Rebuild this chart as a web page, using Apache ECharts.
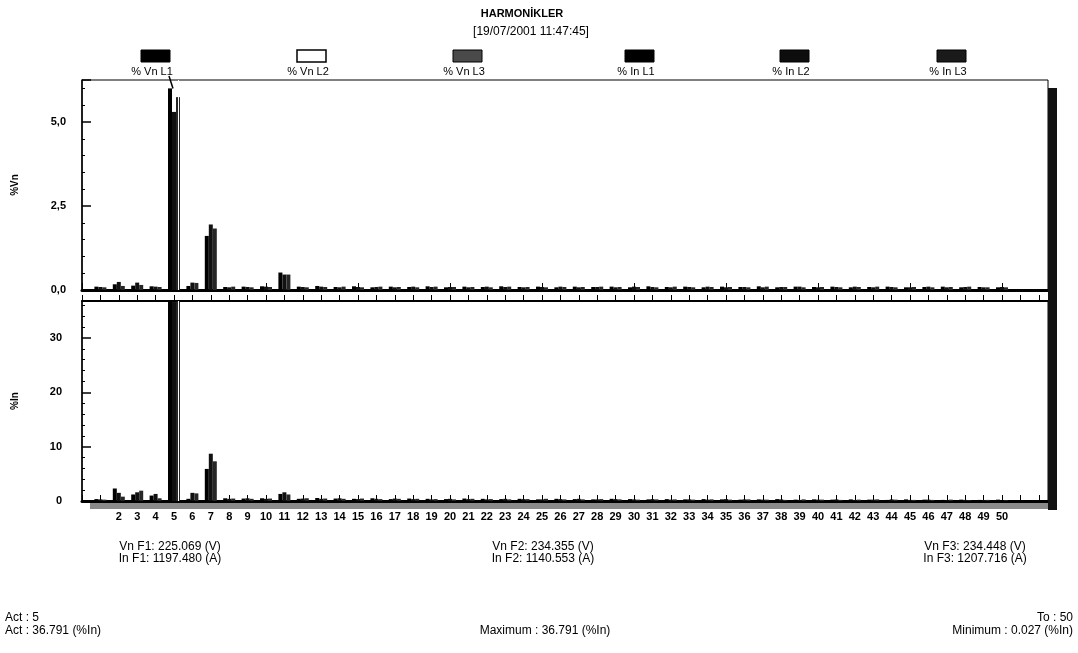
<!DOCTYPE html>
<html>
<head>
<meta charset="utf-8">
<title>HARMONİKLER</title>
<script src="https://cdn.jsdelivr.net/npm/echarts@6/dist/echarts.min.js"></script>
<style>
  html, body { margin: 0; padding: 0; background: #fff; }
  #chart { width: 1078px; height: 653px; }
</style>
</head>
<body>
<div id="chart"></div>
<script>
// Harmonic orders shown on the x axis
const harmonics = [1, 2, 3, 4, 5, 6, 7, 8, 9, 10,
  11, 12, 13, 14, 15, 16, 17, 18, 19, 20,
  21, 22, 23, 24, 25, 26, 27, 28, 29, 30,
  31, 32, 33, 34, 35, 36, 37, 38, 39, 40,
  41, 42, 43, 44, 45, 46, 47, 48, 49, 50];

// Voltage harmonics, % of fundamental, per phase
const vnL1 = [0.10, 0.17, 0.13, 0.11, 6.00, 0.12, 1.61, 0.09, 0.10, 0.11,
  0.52, 0.10, 0.12, 0.09, 0.11, 0.08, 0.10, 0.09, 0.11, 0.08,
  0.10, 0.09, 0.11, 0.09, 0.10, 0.08, 0.10, 0.09, 0.10, 0.08,
  0.11, 0.09, 0.10, 0.08, 0.10, 0.09, 0.11, 0.08, 0.10, 0.09,
  0.10, 0.08, 0.09, 0.10, 0.08, 0.09, 0.10, 0.08, 0.09, 0.08];
const vnL2 = [0.09, 0.24, 0.22, 0.10, 5.30, 0.22, 1.95, 0.08, 0.09, 0.10,
  0.46, 0.09, 0.10, 0.08, 0.09, 0.09, 0.08, 0.10, 0.09, 0.09,
  0.08, 0.10, 0.09, 0.08, 0.09, 0.10, 0.08, 0.09, 0.08, 0.10,
  0.09, 0.08, 0.09, 0.10, 0.08, 0.09, 0.08, 0.09, 0.10, 0.08,
  0.09, 0.10, 0.08, 0.09, 0.08, 0.10, 0.08, 0.09, 0.08, 0.09];
const vnL3 = [0.08, 0.12, 0.15, 0.09, 5.74, 0.21, 1.83, 0.10, 0.08, 0.09,
  0.46, 0.08, 0.09, 0.10, 0.08, 0.10, 0.09, 0.08, 0.10, 0.09,
  0.09, 0.08, 0.10, 0.09, 0.08, 0.09, 0.09, 0.10, 0.09, 0.09,
  0.08, 0.10, 0.08, 0.09, 0.09, 0.08, 0.10, 0.09, 0.08, 0.09,
  0.08, 0.09, 0.10, 0.08, 0.09, 0.08, 0.09, 0.10, 0.08, 0.08];

// Current harmonics, % of fundamental, per phase
const inL1 = [0.35, 2.30, 1.20, 1.00, 36.791, 0.40, 5.90, 0.50, 0.45, 0.50,
  1.30, 0.40, 0.55, 0.45, 0.40, 0.50, 0.35, 0.45, 0.40, 0.35,
  0.45, 0.40, 0.35, 0.40, 0.30, 0.40, 0.35, 0.30, 0.40, 0.35,
  0.30, 0.35, 0.30, 0.35, 0.30, 0.25, 0.30, 0.35, 0.25, 0.30,
  0.25, 0.30, 0.25, 0.20, 0.30, 0.25, 0.20, 0.25, 0.20, 0.25];
const inL2 = [0.30, 1.50, 1.60, 1.30, 36.60, 1.50, 8.70, 0.40, 0.50, 0.40,
  1.60, 0.45, 0.40, 0.50, 0.35, 0.40, 0.45, 0.35, 0.30, 0.40,
  0.35, 0.30, 0.40, 0.35, 0.30, 0.35, 0.40, 0.30, 0.35, 0.30,
  0.35, 0.25, 0.30, 0.25, 0.35, 0.30, 0.25, 0.30, 0.20, 0.25,
  0.30, 0.20, 0.25, 0.30, 0.20, 0.25, 0.15, 0.20, 0.15, 0.027];
const inL3 = [0.25, 0.80, 1.90, 0.50, 36.70, 1.40, 7.30, 0.45, 0.40, 0.45,
  1.20, 0.50, 0.45, 0.40, 0.45, 0.35, 0.40, 0.40, 0.35, 0.30,
  0.40, 0.35, 0.30, 0.35, 0.40, 0.30, 0.30, 0.35, 0.30, 0.25,
  0.30, 0.30, 0.25, 0.30, 0.25, 0.30, 0.25, 0.20, 0.30, 0.25,
  0.20, 0.25, 0.30, 0.25, 0.20, 0.20, 0.25, 0.15, 0.20, 0.15];

const seriesNames = ['% Vn L1', '% Vn L2', '% Vn L3', '% In L1', '% In L2', '% In L3'];
const titleText = 'HARMONİKLER';
const stampText = '[19/07/2001 11:47:45]';
const fundamentalLines = [
  ['Vn F1: 225.069 (V)', 'In F1: 1197.480 (A)'],
  ['Vn F2: 234.355 (V)', 'In F2: 1140.553 (A)'],
  ['Vn F3: 234.448 (V)', 'In F3: 1207.716 (A)']
];
const cursorHarmonic = 5;
const lastHarmonic = 50;

// ---- layout -------------------------------------------------------------
const FONT = '"Liberation Sans", Arial, sans-serif';
const plotLeft = 82, plotWidth = 966;
const topGrid = { top: 80, height: 210 };
const botGrid = { top: 301, height: 200 };
const xMax = 52.5;

const pairs = arr => harmonics.map((h, i) => [h, arr[i]]);
const inAll = inL1.concat(inL2, inL3);
const inMax = Math.max.apply(null, inAll);
const inMin = Math.min.apply(null, inAll);
const actValue = inL1[harmonics.indexOf(cursorHarmonic)];

const barColors = ['#000', '#111', '#262626'];

function barSeries(name, values, axisIdx, yIdx, color, withCursor) {
  const s = {
    name: name,
    type: 'bar',
    xAxisIndex: axisIdx,
    yAxisIndex: yIdx,
    barWidth: 4,
    barGap: '0%',
    silent: true,
    data: pairs(values),
    itemStyle: { color: color }
  };
  if (withCursor) {
    s.markLine = {
      silent: true,
      symbol: 'none',
      label: { show: false },
      lineStyle: { color: '#fff', width: 1, type: 'solid' },
      data: [{ xAxis: cursorHarmonic }]
    };
  }
  return s;
}

const yLabelStyle = { color: '#000', fontFamily: FONT, fontSize: 11, fontWeight: 'bold' };

const option = {
  backgroundColor: '#fff',
  animation: false,
  grid: [
    { left: plotLeft, width: plotWidth, top: topGrid.top, height: topGrid.height,
      show: true, borderColor: '#000', borderWidth: 1, backgroundColor: '#fff' },
    { left: plotLeft, width: plotWidth, top: botGrid.top, height: botGrid.height,
      show: true, borderColor: '#000', borderWidth: 1, backgroundColor: '#fff' }
  ],
  xAxis: [
    { type: 'value', gridIndex: 0, min: 0, max: xMax, interval: 5,
      axisLine: { show: true, onZero: false, lineStyle: { color: '#000', width: 3 } },
      axisTick: { show: true, inside: true, length: 7, lineStyle: { color: '#000', width: 1 } },
      axisLabel: { show: false }, splitLine: { show: false } },
    { type: 'value', gridIndex: 1, min: 0, max: xMax, interval: 1,
      axisLine: { show: true, onZero: false, lineStyle: { color: '#000', width: 3 } },
      axisTick: { show: true, inside: true, length: 6, lineStyle: { color: '#000', width: 1 } },
      axisLabel: { show: true, margin: 10, color: '#000', fontFamily: FONT, fontSize: 11, fontWeight: 'bold',
        formatter: v => (Number.isInteger(v) && v >= 2 && v <= lastHarmonic) ? String(v) : '' },
      splitLine: { show: false } },
    { type: 'value', gridIndex: 1, position: 'top', min: 0, max: xMax, interval: 1,
      axisLine: { show: true, onZero: false, lineStyle: { color: '#000', width: 2 } },
      axisTick: { show: true, inside: false, length: 6, lineStyle: { color: '#000', width: 1 } },
      axisLabel: { show: false }, splitLine: { show: false } }
  ],
  yAxis: [
    { type: 'value', gridIndex: 0, min: 0, max: 6.25, interval: 2.5,
      name: '%Vn', nameLocation: 'middle', nameGap: 62, nameRotate: 90,
      nameTextStyle: { color: '#000', fontFamily: FONT, fontSize: 10, fontWeight: 'bold' },
      axisLine: { show: true, lineStyle: { color: '#000', width: 1.5 } },
      axisTick: { show: true, inside: true, length: 9, lineStyle: { color: '#000', width: 1.5 } },
      minorTick: { show: true, splitNumber: 5, length: 3, lineStyle: { color: '#000', width: 1 } },
      axisLabel: Object.assign({ margin: 16, showMaxLabel: false,
        formatter: v => v.toFixed(1).replace('.', ',') }, yLabelStyle),
      splitLine: { show: false } },
    { type: 'value', gridIndex: 1, min: 0, max: inMax, interval: 10,
      name: '%In', nameLocation: 'middle', nameGap: 62, nameRotate: 90,
      nameTextStyle: { color: '#000', fontFamily: FONT, fontSize: 10, fontWeight: 'bold' },
      axisLine: { show: true, lineStyle: { color: '#000', width: 1.5 } },
      axisTick: { show: true, inside: true, length: 9, lineStyle: { color: '#000', width: 1.5 } },
      minorTick: { show: true, splitNumber: 5, length: 3, lineStyle: { color: '#000', width: 1 } },
      axisLabel: Object.assign({ margin: 20, showMaxLabel: false,
        formatter: v => String(v) }, yLabelStyle),
      splitLine: { show: false } }
  ],
  series: [
    barSeries(seriesNames[0], vnL1, 0, 0, barColors[0], false),
    barSeries(seriesNames[1], vnL2, 0, 0, barColors[1], false),
    barSeries(seriesNames[2], vnL3, 0, 0, barColors[2], true),
    barSeries(seriesNames[3], inL1, 1, 1, barColors[0], false),
    barSeries(seriesNames[4], inL2, 1, 1, barColors[1], false),
    barSeries(seriesNames[5], inL3, 1, 1, barColors[2], true)
  ],
  graphic: []
};

// Legend: swatch above each series name
const legendCenters = [155, 311, 467, 639, 794, 951];
const swatchStyles = [
  { fill: '#000', stroke: '#000', lineWidth: 1 },
  { fill: '#fff', stroke: '#000', lineWidth: 1.5 },
  { fill: '#4a4a4a', stroke: '#000', lineWidth: 1 },
  { fill: '#000', stroke: '#000', lineWidth: 1 },
  { fill: '#0d0d0d', stroke: '#000', lineWidth: 1 },
  { fill: '#1a1a1a', stroke: '#000', lineWidth: 1 }
];
seriesNames.forEach((name, i) => {
  const cx = legendCenters[i];
  option.graphic.push({
    type: 'rect', silent: true,
    shape: { x: cx - 14, y: 50, width: 29, height: 12 },
    style: swatchStyles[i]
  });
  option.graphic.push({
    type: 'text', silent: true, x: cx - 3, y: 72,
    style: { text: name, fill: '#000', font: '11px ' + FONT, textAlign: 'center', textVerticalAlign: 'middle' }
  });
});

// Title and time stamp
option.graphic.push({
  type: 'text', silent: true, x: 522, y: 14,
  style: { text: titleText, fill: '#000', font: 'bold 11px ' + FONT, textAlign: 'center', textVerticalAlign: 'middle' }
});
option.graphic.push({
  type: 'text', silent: true, x: 531, y: 32,
  style: { text: stampText, fill: '#000', font: '12px ' + FONT, textAlign: 'center', textVerticalAlign: 'middle' }
});

// Dark frame edge on the right and shaded floor under the lower axis
option.graphic.push({
  type: 'rect', silent: true, z: 10,
  shape: { x: 1048, y: 88, width: 9, height: 422 },
  style: { fill: '#111' }
});
option.graphic.push({
  type: 'rect', silent: true,
  shape: { x: 90, y: 503, width: 958, height: 6 },
  style: { fill: '#8a8a8a' }
});

// Fundamental values under the chart
const fundCenters = [170, 543, 975];
fundamentalLines.forEach((lines, i) => {
  option.graphic.push({
    type: 'text', silent: true, x: fundCenters[i], y: 547,
    style: { text: lines[0], fill: '#000', font: '12px ' + FONT, textAlign: 'center', textVerticalAlign: 'middle' }
  });
  option.graphic.push({
    type: 'text', silent: true, x: fundCenters[i], y: 559,
    style: { text: lines[1], fill: '#000', font: '12px ' + FONT, textAlign: 'center', textVerticalAlign: 'middle' }
  });
});

// Cursor readout
const foot = [
  { x: 5, y: 618, align: 'left', text: 'Act : ' + cursorHarmonic },
  { x: 5, y: 631, align: 'left', text: 'Act : ' + actValue.toFixed(3) + ' (%In)' },
  { x: 545, y: 631, align: 'center', text: 'Maximum : ' + inMax.toFixed(3) + ' (%In)' },
  { x: 1073, y: 618, align: 'right', text: 'To : ' + lastHarmonic },
  { x: 1073, y: 631, align: 'right', text: 'Minimum : ' + inMin.toFixed(3) + ' (%In)' }
];
foot.forEach(f => {
  option.graphic.push({
    type: 'text', silent: true, x: f.x, y: f.y,
    style: { text: f.text, fill: '#000', font: '12px ' + FONT, textAlign: f.align, textVerticalAlign: 'middle' }
  });
});

const chart = echarts.init(document.getElementById('chart'), null, { renderer: 'canvas' });
chart.setOption(option);

// Cursor pointer from the legend down to the selected harmonic
const cursorX = chart.convertToPixel({ xAxisIndex: 0 }, cursorHarmonic);
const cursorTopY = chart.convertToPixel({ yAxisIndex: 0 }, vnL1[harmonics.indexOf(cursorHarmonic)]);
option.graphic.push({
  type: 'line', silent: true, z: 11,
  shape: { x1: cursorX - 5, y1: 76, x2: cursorX - 1, y2: cursorTopY },
  style: { stroke: '#000', lineWidth: 1.5 }
});
chart.setOption({ graphic: option.graphic });
</script>
</body>
</html>
